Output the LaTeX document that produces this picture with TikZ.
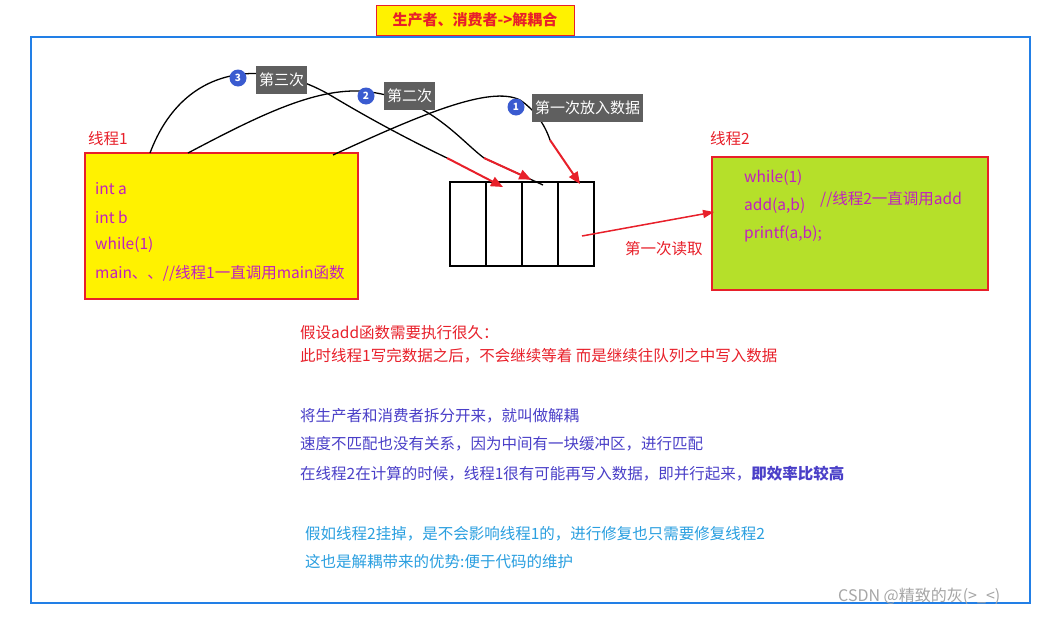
\documentclass[tikz,border=0pt]{standalone}
\usepackage{fontspec}
\setmainfont{Noto Sans CJK SC}
\usetikzlibrary{arrows.meta,calc}
\definecolor{mag}{HTML}{C020C0}
\definecolor{ttred}{HTML}{E8202A}
\definecolor{bpur}{HTML}{4A3FC8}
\definecolor{lblue}{HTML}{2A9FE0}
\definecolor{badge}{HTML}{3A5BD0}
\definecolor{tag}{HTML}{5F5F5F}
\definecolor{lime}{HTML}{B5E02A}
\begin{document}
\begin{tikzpicture}[x=1pt,y=-1pt,
  txt/.style={anchor=west,inner sep=0pt,font=\fontsize{15.5}{17}\selectfont},
  bdg/.style={circle,fill=badge,text=white,inner sep=0pt,minimum size=17pt,font=\fontsize{10}{10}\selectfont\bfseries},
  tagbox/.style={fill=tag,text=white,inner sep=3pt,minimum height=28pt,font=\fontsize{15}{16}\selectfont},
  curve/.style={line width=1.3pt,black},
  rarrow/.style={line width=2pt,ttred,-{Triangle[length=12pt,width=10pt]}}]
\useasboundingbox (0,0) rectangle (1047,616);
\fill[white] (0,0) rectangle (1047,616);
\draw[line width=1.5pt,lblue!80!blue] (31,37) rectangle (1030,603);
\node[draw=ttred,fill=yellow,text=ttred,minimum width=198pt,minimum height=30pt,inner sep=0pt,font=\fontsize{15}{16}\selectfont\bfseries] (title) at (475,20) {生产者、消费者->解耦合};
\node[txt,text=ttred] (l1) at (88,139) {线程1};
\node[draw=ttred,line width=1.2pt,fill=yellow,minimum width=273pt,minimum height=146pt] (b1) at (221.5,226) {};
\node[txt,text=mag] (a1) at (95,189) {int a};
\node[txt,text=mag] (a2) at (95,217) {int b};
\node[txt,text=mag] (a3) at (95,245) {while(1)};
\node[txt,text=mag] (a4) at (95,273) {main、、//线程1一直调用main函数};
\node[draw,line width=1.2pt,minimum width=144pt,minimum height=84pt] (q) at (522,224) {};
\foreach \x in {486,522,558} \draw[line width=1.2pt] (\x,182) -- (\x,266);
\node[txt,text=ttred] (l2) at (710,139) {线程2};
\node[draw=ttred,line width=1.2pt,fill=lime,minimum width=276pt,minimum height=133pt] (b2) at (850,223.5) {};
\node[txt,text=mag] (c1) at (744,178) {while(1)};
\node[txt,text=mag] (c2) at (744,206) {add(a,b)};
\node[txt,text=mag] (c3) at (744,234) {printf(a,b);};
\node[txt,text=mag] (c4) at (820,199) {//线程2一直调用add};
\coordinate (rs) at (582,236);
\coordinate (re) at (714,212);
\draw[line width=1.5pt,ttred,-{Triangle[length=11pt,width=8pt]}] (rs) -- (re);
\node[txt,text=ttred] (rd) at (625,249) {第一次读取};
% curves
\coordinate (s3) at (150,153); \coordinate (m3) at (447,158); \coordinate (e3) at (503,187);
\coordinate (s2) at (188,153); \coordinate (m2) at (484,158); \coordinate (e2) at (543,185);
\coordinate (s1) at (333,155); \coordinate (m1) at (550,140); \coordinate (e1) at (580,184);
\draw[curve] (s3) .. controls (185,60) and (270,60) .. (330,95) .. controls (380,125) and (420,145) .. (m3);
\draw[curve] (s2) .. controls (260,115) and (320,85) .. (370,92) .. controls (430,100) and (460,140) .. (m2);
\draw[curve] (s1) .. controls (420,115) and (490,85) .. (520,100) .. controls (535,110) and (545,125) .. (m1);
\draw[curve] (m2) -- (e2);
\draw[rarrow] (m3) -- (e3);
\draw[rarrow] (m2) -- ($(m2)!0.8!(e2)$);
\draw[rarrow] (m1) -- (e1);
% badges
\node[bdg] (n3) at (238,78) {3};
\node[tagbox,anchor=west] (t3) at (256,80) {第三次};
\node[bdg] (n2) at (366,96) {2};
\node[tagbox,anchor=west] (t2) at (384,96) {第二次};
\node[bdg] (n1) at (516,107) {1};
\node[tagbox,anchor=west] (t1) at (532,108) {第一次放入数据};
% texts
\node[txt,text=ttred] (p1) at (300,333) {假设add函数需要执行很久：};
\node[txt,text=ttred] (p2) at (300,356) {此时线程1写完数据之后，不会继续等着 而是继续往队列之中写入数据};
\node[txt,text=bpur] (p3) at (300,416) {将生产者和消费者拆分开来，就叫做解耦};
\node[txt,text=bpur] (p4) at (300,444) {速度不匹配也没有关系，因为中间有一块缓冲区，进行匹配};
\node[txt,text=bpur] (p5) at (300,474) {在线程2在计算的时候，线程1很有可能再写入数据，即并行起来，\textbf{即效率比较高}};
\node[txt,text=lblue] (p6) at (305,534) {假如线程2挂掉，是不会影响线程1的，进行修复也只需要修复线程2};
\node[txt,text=lblue] (p7) at (305,562) {这也是解耦带来的优势:便于代码的维护};
\node[txt,text=gray!70,font=\fontsize{16}{17}\selectfont] (wm) at (838,596) {CSDN @精致的灰(>\_<)};
\end{tikzpicture}
\end{document}
